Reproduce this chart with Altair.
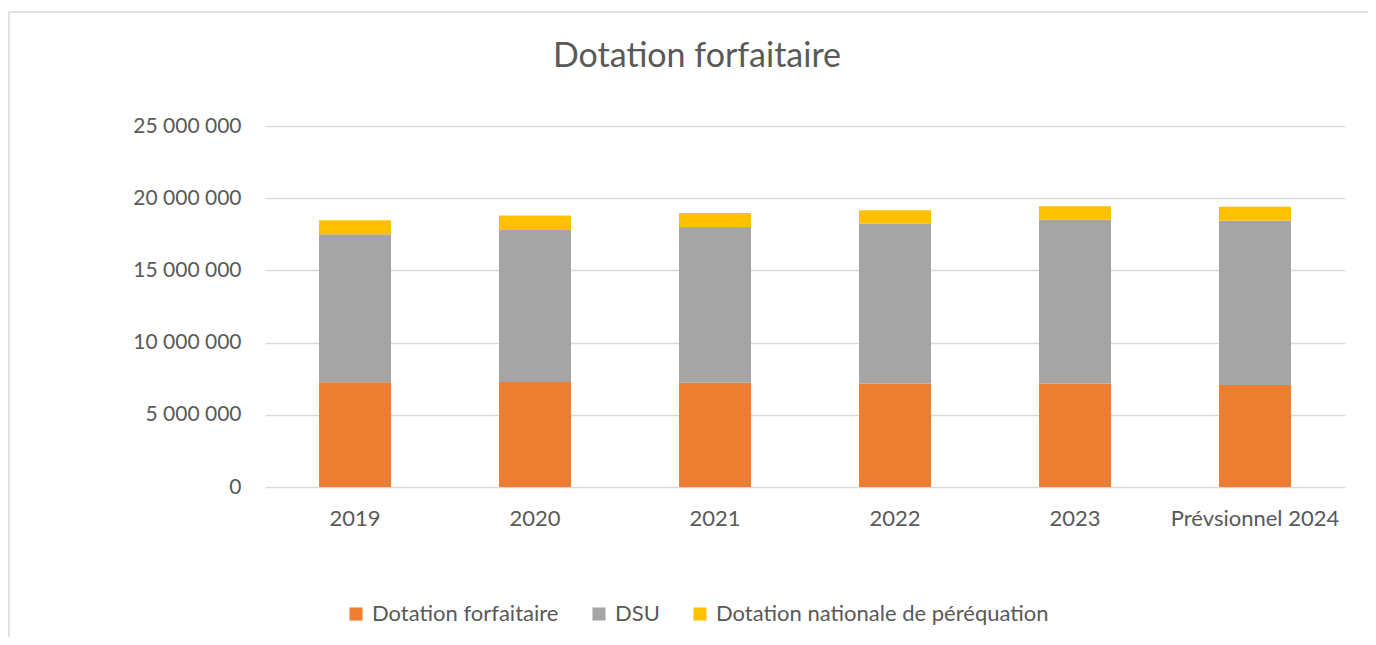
import altair as alt
import pandas as pd

years = ["2019", "2020", "2021", "2022", "2023", "Prévsionnel 2024"]
series = ["Dotation forfaitaire", "DSU", "Dotation nationale de péréquation"]
dotation_forfaitaire = [7260000, 7270000, 7220000, 7170000, 7170000, 7060000]
dsu = [10240000, 10520000, 10780000, 11060000, 11330000, 11370000]
dnp = [980000, 1020000, 970000, 940000, 950000, 970000]
colors = ["#ED7D31", "#A5A5A5", "#FFC000"]
y_ticks = [0, 5000000, 10000000, 15000000, 20000000, 25000000]
chart_title = "Dotation forfaitaire"

rows = []
for i, y in enumerate(years):
    for k, (name, vals) in enumerate(zip(series, [dotation_forfaitaire, dsu, dnp])):
        rows.append({"Année": y, "Série": name, "Valeur": vals[i], "ordre": k})
df = pd.DataFrame(rows)
one = pd.DataFrame({"t": [chart_title]})

FONT = "Lato"
TXT = "#595959"

bars = alt.Chart(df).mark_bar().encode(
    x=alt.X("Année:N", sort=years, title=None,
            scale=alt.Scale(paddingInner=0.6, paddingOuter=0.3),
            axis=alt.Axis(labelAngle=0, ticks=False, domain=False, grid=False,
                          labelFont=FONT, labelFontSize=22, labelColor=TXT,
                          labelPadding=21)),
    y=alt.Y("Valeur:Q", title=None, stack="zero",
            scale=alt.Scale(domain=[0, 25000000], nice=False),
            axis=alt.Axis(values=y_ticks, ticks=False, domain=False,
                          gridColor="#D9D9D9", gridWidth=1.3,
                          labelFont=FONT, labelFontSize=21, labelColor=TXT,
                          labelPadding=24,
                          labelExpr="replace(format(datum.value, ',d'), /,/g, ' ')")),
    color=alt.Color("Série:N", sort=series,
                    scale=alt.Scale(domain=series, range=colors),
                    legend=alt.Legend(title=None, orient="none", direction="horizontal",
                                      columns=3, legendX=80, legendY=477,
                                      symbolType="square", symbolSize=170,
                                      symbolStrokeWidth=0, columnPadding=29,
                                      labelOffset=5, labelLimit=0,
                                      labelFont=FONT, labelFontSize=22, labelColor=TXT)),
    order=alt.Order("ordre:Q", sort="ascending"),
)

title_text = alt.Chart(one).mark_text(
    font=FONT, fontSize=34, fontWeight="normal", color=TXT, align="center",
    baseline="middle", clip=False
).encode(x=alt.value(432), y=alt.value(-69), text="t:N")

frame_top = alt.Chart(one).mark_rule(color="#D9D9D9", strokeWidth=1.5, clip=False).encode(
    x=alt.value(-256), x2=alt.value(1111), y=alt.value(-114))
frame_left = alt.Chart(one).mark_rule(color="#D9D9D9", strokeWidth=1.5, clip=False).encode(
    x=alt.value(-256), y=alt.value(-114), y2=alt.value(520))

chart = alt.layer(frame_top, frame_left, bars, title_text).properties(
    width=1080, height=361,
    autosize=alt.AutoSizeParams(type="none"),
    padding={"left": 257, "top": 118, "right": 23, "bottom": 150},
).configure(background="white").configure_view(stroke=None)

chart.save("out.html", embed_options={"renderer": "svg", "actions": False})
